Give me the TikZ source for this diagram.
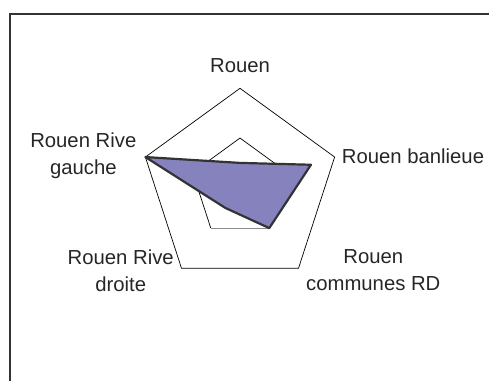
\documentclass[tikz,border=0pt]{standalone}
\usepackage{fontspec}
\setmainfont{Liberation Sans}
\usetikzlibrary{positioning}
\definecolor{framegray}{RGB}{51,51,51}
\definecolor{datafill}{RGB}{134,130,190}
\begin{document}
\begin{tikzpicture}[x=1pt,y=1pt,
        ring/.style={line width=0.7pt, color=black},
        data/.style={line width=2.2pt, color=framegray, fill=datafill, line join=round},
        lbl/.style={font=\fontsize{20.3}{27}\selectfont, text=black!85, align=center, inner sep=0pt}]
        \useasboundingbox (0,0) rectangle (489,-381);
        \draw [line width=2pt, color=framegray] (9.8,-381) -- (9.8,-14.2) -- (489,-14.2);
        \begin{scope}[shift={(240,-187.8)}]
        % axis ends
        \foreach \a [count=\i] in {90,18,-54,-126,162} {
            \coordinate (out\i) at (\a:99.5);
            \coordinate (in\i) at (\a:49.75);
        }
        \draw [ring] (out1) -- (out2) -- (out3) -- (out4) -- (out5) -- cycle;
        \draw [ring] (in4) -- (in5) -- (in1) -- (in2) -- (in3);
        \draw [line width=1pt, color=black!45] (in3) -- (in4);
        % values
        \draw [data] (90:24.9) -- (18:74.6) -- (-54:49.8) -- (-126:24.9) -- (162:99.5) -- cycle;
        \end{scope}
        \node [lbl] (lRouen) at (240,-65.7) {Rouen};
        \node [lbl, anchor=west] (lBanlieue) at (341.7,-156) {Rouen banlieue};
        \node [lbl] (lRD) at (373.3,-270.5) {Rouen\\communes RD};
        \node [lbl] (lRiveG) at (83.3,-156) {Rouen Rive\\gauche};
        \node [lbl] (lRiveD) at (120.7,-271) {Rouen Rive\\droite};
\end{tikzpicture}
\end{document}
